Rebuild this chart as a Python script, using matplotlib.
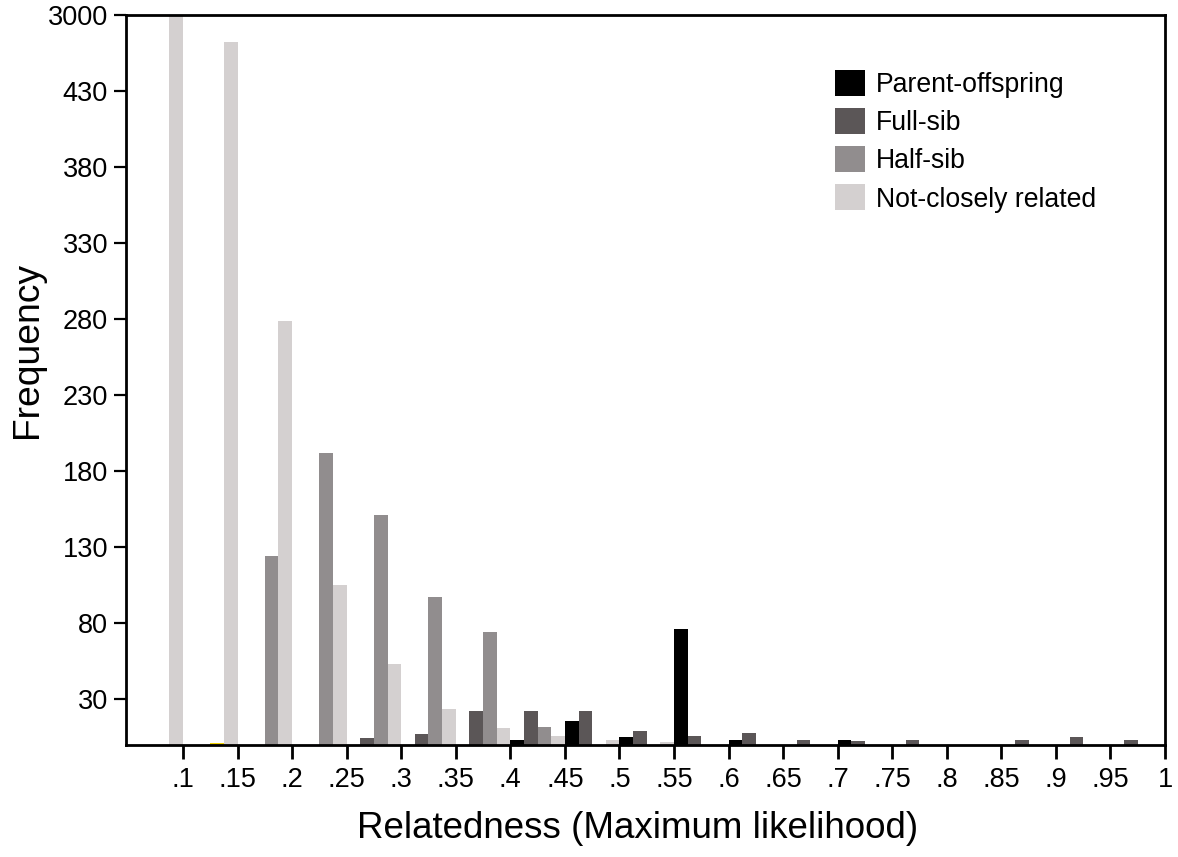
import matplotlib
matplotlib.use("Agg")
import matplotlib.pyplot as plt
from matplotlib.patches import Patch

plt.rcParams['font.family'] = ['Liberation Sans', 'DejaVu Sans']

# Bin upper edges (relatedness) and tick labels
bin_edges = [0.1, 0.15, 0.2, 0.25, 0.3, 0.35, 0.4, 0.45, 0.5, 0.55,
             0.6, 0.65, 0.7, 0.75, 0.8, 0.85, 0.9, 0.95, 1.0]
tick_labels = ['.1', '.15', '.2', '.25', '.3', '.35', '.4', '.45', '.5', '.55',
               '.6', '.65', '.7', '.75', '.8', '.85', '.9', '.95', '1']

# Frequencies per bin
parent_offspring = [0, 0, 0, 0, 0, 0, 0, 3, 16, 5, 76.5, 3, 0, 3, 0, 0, 0, 0, 0]
full_sib = [0, 0, 0, 0, 4.5, 7, 22.5, 22.5, 22.5, 9, 6, 8, 3, 2.5, 3, 0, 3, 5.5, 3]
half_sib = [0, 1, 124, 192, 151, 97, 74, 12, 0, 0, 0, 0, 0, 0, 0, 0, 0, 0, 0]
not_related = [3000, 462, 279, 105, 53, 24, 11, 6, 3, 2, 0, 0, 0, 0, 0, 0, 0, 0, 0]

series_names = ['Parent-offspring', 'Full-sib', 'Half-sib', 'Not-closely related']
series_colors = ['#000000', '#5b5657', '#918d8e', '#d4d0d0']

ytick_values = [30, 80, 130, 180, 230, 280, 330, 380, 430, 480]
ytick_labels = ['30', '80', '130', '180', '230', '280', '330', '380', '430', '3000']

W, H = 1178, 857
fig = plt.figure(figsize=(W / 100, H / 100), dpi=100)
ax = fig.add_axes([126 / W, 1 - 745 / H, (1165 - 126) / W, (745 - 15) / H])

bin_w = 0.05
bar_w = bin_w / 4
all_series = [parent_offspring, full_sib, half_sib, not_related]
for k, (vals, col) in enumerate(zip(all_series, series_colors)):
    lefts = [e - bin_w + k * bar_w for e in bin_edges]
    bars = ax.bar(lefts, vals, width=bar_w, align='edge', color=col, linewidth=0)
    if k == 2:
        # tiny yellow artifact bar in the .15 bin
        bars[1].set_color('#f2d200')

ax.set_xlim(0.0478, 1.0)
ax.set_ylim(0, 480)
ax.set_xticks(bin_edges)
ax.set_xticklabels(tick_labels)
ax.set_yticks(ytick_values)
ax.set_yticklabels(ytick_labels)

for s in ax.spines.values():
    s.set_linewidth(2)
ax.tick_params(axis='x', direction='out', length=10, width=2, labelsize=19.5, pad=6)
ax.tick_params(axis='y', direction='out', length=9, width=1.6, labelsize=19.5, pad=4)

ax.set_xlabel('Relatedness (Maximum likelihood)', fontsize=26.5)
ax.xaxis.set_label_coords((637.5 - 126) / 1039, -(828 - 745) / 730, transform=ax.transAxes)
ax.xaxis.label.set_va('center')
ax.set_ylabel('Frequency', fontsize=26.8)
ax.yaxis.set_label_coords(-(126 - 28) / 1039, (745 - 350) / 730, transform=ax.transAxes)
ax.yaxis.label.set_va('center')

handles = [Patch(facecolor=c, edgecolor='none', label=n) for n, c in zip(series_names, series_colors)]
ax.legend(handles=handles, loc='upper left', bbox_to_anchor=(835 / W, 1 - 70 / H),
          bbox_transform=fig.transFigure, frameon=False, borderpad=0, borderaxespad=0,
          fontsize=19.2, handlelength=1.12, handleheight=1.12, handletextpad=0.42,
          labelspacing=0.38)

fig.savefig('out.png', dpi=100)
